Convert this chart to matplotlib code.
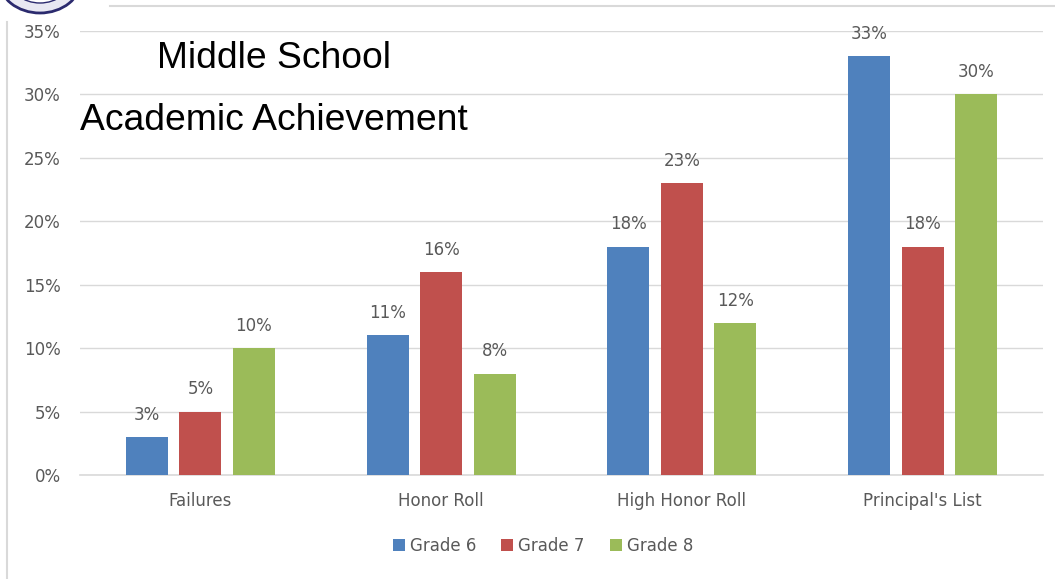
import matplotlib
matplotlib.use("Agg")
import matplotlib.pyplot as plt
import matplotlib.ticker as ticker
from matplotlib.patches import Ellipse, Patch
from matplotlib.lines import Line2D
import numpy as np

categories = ["Failures", "Honor Roll", "High Honor Roll", "Principal's List"]
grades = ["Grade 6", "Grade 7", "Grade 8"]
grade6 = [0.03, 0.11, 0.18, 0.33]
grade7 = [0.05, 0.16, 0.23, 0.18]
grade8 = [0.10, 0.08, 0.12, 0.30]

blue = '#4f81bd'
red = '#c0504d'
green = '#9bbb59'
gray_text = '#595959'
grid_gray = '#d9d9d9'

W, H = 1055, 579
fig = plt.figure(figsize=(W / 100, H / 100), dpi=100)
ax = fig.add_axes([80 / W, 1 - 475 / H, (1043 - 80) / W, (475 - 31) / H])

x = np.arange(len(categories))
step = 0.222
width = 0.174
series = [grade6, grade7, grade8]
colors = [blue, red, green]
for k, (vals, col) in enumerate(zip(series, colors)):
    pos = x + (k - 1) * step
    ax.bar(pos, vals, width=width, color=col, zorder=3, label=grades[k])
    for p, v in zip(pos, vals):
        ax.annotate(f"{v * 100:.0f}%", (p, v), xytext=(0, 16), textcoords='offset points',
                    ha='center', va='center', fontsize=12, color=gray_text,
                    family='DejaVu Sans', zorder=4)

ax.set_xlim(-0.5, len(categories) - 0.5)
ax.set_ylim(0, 0.35)
ax.yaxis.set_major_locator(ticker.MultipleLocator(0.05))
ax.yaxis.set_major_formatter(ticker.FuncFormatter(lambda v, _: f"{v * 100:.0f}%"))
ax.yaxis.grid(True, color=grid_gray, linewidth=1.0, zorder=0)
ax.axhline(0, color=grid_gray, linewidth=1.2, zorder=2, clip_on=False)
ax.set_axisbelow(True)
ax.set_xticks(x)
ax.set_xticklabels(categories)
for s in ax.spines.values():
    s.set_visible(False)
ax.tick_params(axis='both', length=0, labelsize=12, labelcolor=gray_text)
ax.tick_params(axis='x', pad=12)
ax.tick_params(axis='y', pad=14)

handles = [Patch(facecolor=c, label=g) for c, g in zip(colors, grades)]
fig.legend(handles=handles, loc='center', bbox_to_anchor=(543 / W, 1 - 546 / H), ncol=3,
           frameon=False, handlelength=0.72, handleheight=0.72, handletextpad=0.3,
           columnspacing=1.5, prop={'family': 'DejaVu Sans', 'size': 12},
           labelcolor=gray_text)

fig.text(157 / W, 1 - 58 / H, "Middle School", fontsize=26.8, family='Liberation Sans',
         ha='left', va='center', color='black')
fig.text(80 / W, 1 - 121 / H, "Academic Achievement", fontsize=26.8, family='Liberation Sans',
         ha='left', va='center', color='black')

# frame lines of the slide
fig.add_artist(Line2D([110 / W, 1], [1 - 6 / H, 1 - 6 / H], color=grid_gray, linewidth=1.5))
fig.add_artist(Line2D([7 / W, 7 / W], [0, 1 - 22 / H], color=grid_gray, linewidth=1.5))

# cut-off logo in the corner
fig.add_artist(Ellipse((40 / W, 1 + 20 / H), 82 / W, 66 / H, transform=fig.transFigure,
                       facecolor='#e8e8f2', edgecolor='#2b2a6e', linewidth=2))
fig.add_artist(Ellipse((40 / W, 1 + 22 / H), 62 / W, 50 / H, transform=fig.transFigure,
                       facecolor='#ffffff', edgecolor='#2b2a6e', linewidth=1))

fig.savefig("out.png", dpi=100)
